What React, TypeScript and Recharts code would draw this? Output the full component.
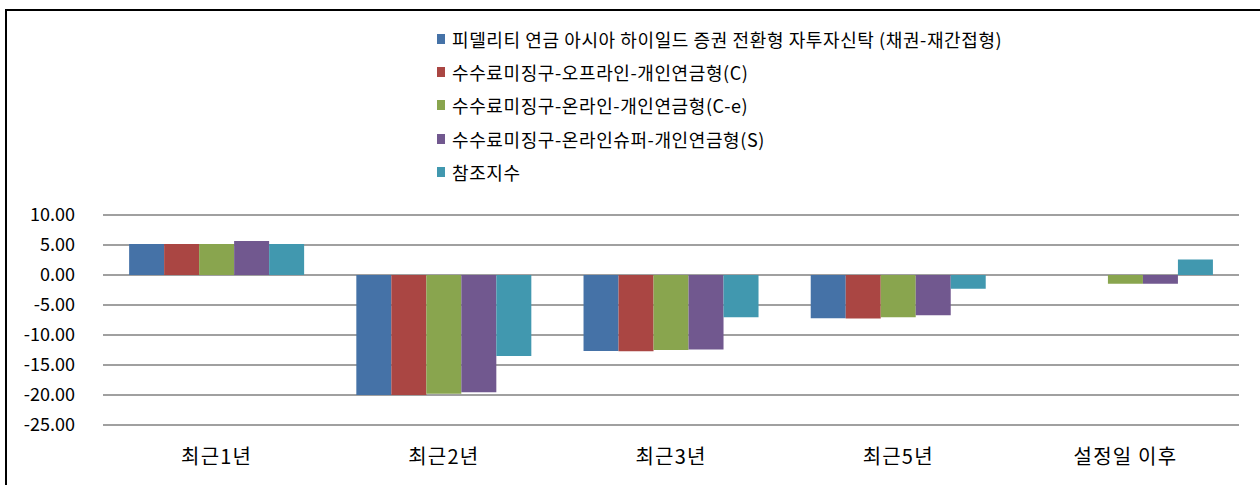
import React from 'react';
import { BarChart, Bar, XAxis, YAxis, CartesianGrid, Legend } from 'recharts';

const categories = ['최근1년', '최근2년', '최근3년', '최근5년', '설정일 이후'];
const fundMain = [5.15, -20.0, -12.65, -7.2, null];
const feeOffline = [5.15, -20.0, -12.7, -7.25, null];
const feeOnline = [5.15, -19.8, -12.5, -7.05, -1.45];
const feeSuper = [5.65, -19.55, -12.4, -6.7, -1.45];
const benchmark = [5.15, -13.5, -7.05, -2.3, 2.6];

const seriesKeys = ['s0', 's1', 's2', 's3', 's4'];
const seriesNames = [
  '피델리티 연금 아시아 하이일드 증권 전환형 자투자신탁 (채권-재간접형)',
  '수수료미징구-오프라인-개인연금형(C)',
  '수수료미징구-온라인-개인연금형(C-e)',
  '수수료미징구-온라인슈퍼-개인연금형(S)',
  '참조지수',
];
const seriesColors = ['#4572A7', '#AA4643', '#89A54E', '#71588F', '#4198AF'];
const yTicks = [10, 5, 0, -5, -10, -15, -20, -25];

const seriesValues = [fundMain, feeOffline, feeOnline, feeSuper, benchmark];
const data = categories.map((c, i) => {
  const row: Record<string, any> = { name: c };
  seriesKeys.forEach((k, j) => {
    row[k] = seriesValues[j][i];
  });
  return row;
});

const FONT = '"Noto Sans CJK KR", "Noto Sans", sans-serif';

const LegendContent = () => (
  <div style={{ fontFamily: FONT, fontSize: 18, color: '#000', letterSpacing: 0.6 }}>
    {seriesNames.map((n, i) => (
      <div key={n} style={{ height: 33.3, display: 'flex', alignItems: 'center', whiteSpace: 'nowrap' }}>
        <span
          style={{
            display: 'inline-block',
            width: 8,
            height: 10,
            background: seriesColors[i],
            marginRight: 7,
          }}
        />
        <span>{n}</span>
      </div>
    ))}
  </div>
);

export default function App() {
  return (
    <div style={{ position: 'absolute', left: 0, top: 0, width: 1260, height: 485, background: '#fff' }}>
      <div style={{ position: 'absolute', left: 5, top: 9, width: 1255, height: 2, background: '#000' }} />
      <div style={{ position: 'absolute', left: 5, top: 9, width: 2, height: 476, background: '#000' }} />
      <BarChart
        width={1260}
        height={485}
        data={data}
        margin={{ top: 215, right: 21, bottom: 0, left: 0 }}
        barCategoryGap="11.5%"
        barGap={0}
      >
        <CartesianGrid horizontal vertical={false} stroke="#a0a0a0" strokeWidth={2} />
        <XAxis
          dataKey="name"
          axisLine={false}
          tickLine={false}
          height={60}
          tickMargin={19}
          tick={{ fontFamily: FONT, fontSize: 20, fill: '#000', letterSpacing: 1.2 }}
        />
        <YAxis
          domain={[-25, 10]}
          ticks={yTicks}
          interval={0}
          width={103}
          axisLine={false}
          tickLine={false}
          tickMargin={22}
          tickFormatter={(v: number) => v.toFixed(2)}
          tick={{ fontFamily: FONT, fontSize: 18, fill: '#000' }}
        />
        <Legend
          layout="vertical"
          verticalAlign="middle"
          align="center"
          wrapperStyle={{ position: 'absolute', left: 437, top: 22, width: 'auto' }}
          content={<LegendContent />}
        />
        {seriesKeys.map((k, i) => (
          <Bar key={k} dataKey={k} name={seriesNames[i]} fill={seriesColors[i]} isAnimationActive={false} />
        ))}
      </BarChart>
    </div>
  );
}
